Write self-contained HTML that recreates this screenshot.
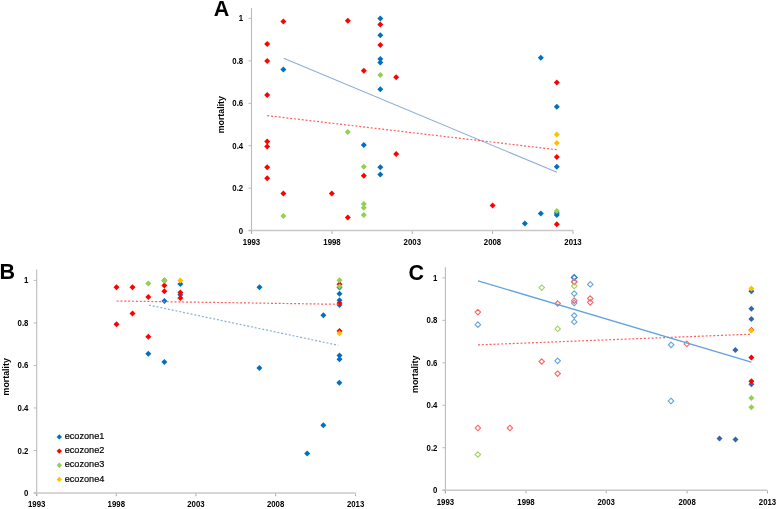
<!DOCTYPE html>
<html><head><meta charset="utf-8"><title>mortality</title>
<style>
html,body{margin:0;padding:0;background:#fff;}
body{width:778px;height:509px;overflow:hidden;}
svg{display:block;will-change:transform;font-family:"Liberation Sans", sans-serif;}
</style></head>
<body>
<svg width="778" height="509" viewBox="0 0 778 509">
<rect x="0" y="0" width="778" height="509" fill="#fff"/>
<line x1="251.5" y1="8" x2="251.5" y2="233.6" stroke="#BBBBBB" stroke-width="1.1"/>
<line x1="248.5" y1="230.6" x2="573.5" y2="230.6" stroke="#C8C8C8" stroke-width="1.5"/>
<line x1="248.5" y1="230.6" x2="251.5" y2="230.6" stroke="#BBBBBB" stroke-width="1.0"/>
<text x="0" y="0" font-size="8.4" font-weight="bold" text-anchor="end" transform="translate(243.2,233.6) scale(0.93,1)">0</text>
<line x1="248.5" y1="188.16" x2="251.5" y2="188.16" stroke="#BBBBBB" stroke-width="1.0"/>
<text x="0" y="0" font-size="8.4" font-weight="bold" text-anchor="end" transform="translate(243.2,191.2) scale(0.93,1)">0.2</text>
<line x1="248.5" y1="145.72" x2="251.5" y2="145.72" stroke="#BBBBBB" stroke-width="1.0"/>
<text x="0" y="0" font-size="8.4" font-weight="bold" text-anchor="end" transform="translate(243.2,148.7) scale(0.93,1)">0.4</text>
<line x1="248.5" y1="103.28" x2="251.5" y2="103.28" stroke="#BBBBBB" stroke-width="1.0"/>
<text x="0" y="0" font-size="8.4" font-weight="bold" text-anchor="end" transform="translate(243.2,106.3) scale(0.93,1)">0.6</text>
<line x1="248.5" y1="60.84" x2="251.5" y2="60.84" stroke="#BBBBBB" stroke-width="1.0"/>
<text x="0" y="0" font-size="8.4" font-weight="bold" text-anchor="end" transform="translate(243.2,63.8) scale(0.93,1)">0.8</text>
<line x1="248.5" y1="18.400000000000006" x2="251.5" y2="18.400000000000006" stroke="#BBBBBB" stroke-width="1.0"/>
<text x="0" y="0" font-size="8.4" font-weight="bold" text-anchor="end" transform="translate(243.2,21.4) scale(0.93,1)">1</text>
<line x1="251.5" y1="231.29999999999998" x2="251.5" y2="233.79999999999998" stroke="#A0A0A0" stroke-width="0.9"/>
<text x="0" y="0" font-size="8.4" font-weight="bold" text-anchor="middle" transform="translate(251.5,245.2) scale(0.93,1)">1993</text>
<line x1="332" y1="231.29999999999998" x2="332" y2="233.79999999999998" stroke="#A0A0A0" stroke-width="0.9"/>
<text x="0" y="0" font-size="8.4" font-weight="bold" text-anchor="middle" transform="translate(332,245.2) scale(0.93,1)">1998</text>
<line x1="412.3" y1="231.29999999999998" x2="412.3" y2="233.79999999999998" stroke="#A0A0A0" stroke-width="0.9"/>
<text x="0" y="0" font-size="8.4" font-weight="bold" text-anchor="middle" transform="translate(412.3,245.2) scale(0.93,1)">2003</text>
<line x1="492.5" y1="231.29999999999998" x2="492.5" y2="233.79999999999998" stroke="#A0A0A0" stroke-width="0.9"/>
<text x="0" y="0" font-size="8.4" font-weight="bold" text-anchor="middle" transform="translate(492.5,245.2) scale(0.93,1)">2008</text>
<line x1="573" y1="231.29999999999998" x2="573" y2="233.79999999999998" stroke="#A0A0A0" stroke-width="0.9"/>
<text x="0" y="0" font-size="8.4" font-weight="bold" text-anchor="middle" transform="translate(573,245.2) scale(0.93,1)">2013</text>
<text x="0" y="0" font-size="8.2" font-weight="bold" text-anchor="middle" transform="translate(224.2,114.7) rotate(-90) scale(1.08,1)">mortality</text>
<text x="213.8" y="16.2" font-size="21.5" text-anchor="start" font-weight="bold" >A</text>
<path d="M283.4 66.6L286.4 69.6L283.4 72.6L280.4 69.6Z" fill="#0070C0"/>
<path d="M363.8 142.1L366.8 145.1L363.8 148.1L360.8 145.1Z" fill="#0070C0"/>
<path d="M380.3 15.4L383.3 18.4L380.3 21.4L377.3 18.4Z" fill="#0070C0"/>
<path d="M380.3 32.2L383.3 35.2L380.3 38.2L377.3 35.2Z" fill="#0070C0"/>
<path d="M380.3 55.9L383.3 58.9L380.3 61.9L377.3 58.9Z" fill="#0070C0"/>
<path d="M380.3 59.6L383.3 62.6L380.3 65.6L377.3 62.6Z" fill="#0070C0"/>
<path d="M380.3 86.3L383.3 89.3L380.3 92.3L377.3 89.3Z" fill="#0070C0"/>
<path d="M380.3 164.2L383.3 167.2L380.3 170.2L377.3 167.2Z" fill="#0070C0"/>
<path d="M380.3 171.4L383.3 174.4L380.3 177.4L377.3 174.4Z" fill="#0070C0"/>
<path d="M524.9 220.6L527.9 223.6L524.9 226.6L521.9 223.6Z" fill="#0070C0"/>
<path d="M540.8 54.7L543.8 57.7L540.8 60.7L537.8 57.7Z" fill="#0070C0"/>
<path d="M540.8 210.5L543.8 213.5L540.8 216.5L537.8 213.5Z" fill="#0070C0"/>
<path d="M556.8 103.7L559.8 106.7L556.8 109.7L553.8 106.7Z" fill="#0070C0"/>
<path d="M556.8 163.7L559.8 166.7L556.8 169.7L553.8 166.7Z" fill="#0070C0"/>
<path d="M556.8 210.0L559.8 213.0L556.8 216.0L553.8 213.0Z" fill="#0070C0"/>
<path d="M556.8 212.0L559.8 215.0L556.8 218.0L553.8 215.0Z" fill="#0070C0"/>
<path d="M267.2 41.0L270.2 44.0L267.2 47.0L264.2 44.0Z" fill="#FF0000"/>
<path d="M267.2 58.0L270.2 61.0L267.2 64.0L264.2 61.0Z" fill="#FF0000"/>
<path d="M267.2 92.0L270.2 95.0L267.2 98.0L264.2 95.0Z" fill="#FF0000"/>
<path d="M267.2 138.4L270.2 141.4L267.2 144.4L264.2 141.4Z" fill="#FF0000"/>
<path d="M267.2 143.4L270.2 146.4L267.2 149.4L264.2 146.4Z" fill="#FF0000"/>
<path d="M267.2 164.2L270.2 167.2L267.2 170.2L264.2 167.2Z" fill="#FF0000"/>
<path d="M267.2 175.3L270.2 178.3L267.2 181.3L264.2 178.3Z" fill="#FF0000"/>
<path d="M283.4 18.5L286.4 21.5L283.4 24.5L280.4 21.5Z" fill="#FF0000"/>
<path d="M283.4 190.5L286.4 193.5L283.4 196.5L280.4 193.5Z" fill="#FF0000"/>
<path d="M331.8 190.5L334.8 193.5L331.8 196.5L328.8 193.5Z" fill="#FF0000"/>
<path d="M347.8 17.8L350.8 20.8L347.8 23.8L344.8 20.8Z" fill="#FF0000"/>
<path d="M347.8 214.5L350.8 217.5L347.8 220.5L344.8 217.5Z" fill="#FF0000"/>
<path d="M363.8 67.8L366.8 70.8L363.8 73.8L360.8 70.8Z" fill="#FF0000"/>
<path d="M363.8 172.8L366.8 175.8L363.8 178.8L360.8 175.8Z" fill="#FF0000"/>
<path d="M380.3 21.6L383.3 24.6L380.3 27.6L377.3 24.6Z" fill="#FF0000"/>
<path d="M380.3 42.0L383.3 45.0L380.3 48.0L377.3 45.0Z" fill="#FF0000"/>
<path d="M396.2 74.2L399.2 77.2L396.2 80.2L393.2 77.2Z" fill="#FF0000"/>
<path d="M396.2 151.0L399.2 154.0L396.2 157.0L393.2 154.0Z" fill="#FF0000"/>
<path d="M492.6 202.5L495.6 205.5L492.6 208.5L489.6 205.5Z" fill="#FF0000"/>
<path d="M556.8 79.5L559.8 82.5L556.8 85.5L553.8 82.5Z" fill="#FF0000"/>
<path d="M556.8 154.1L559.8 157.1L556.8 160.1L553.8 157.1Z" fill="#FF0000"/>
<path d="M556.8 221.2L559.8 224.2L556.8 227.2L553.8 224.2Z" fill="#FF0000"/>
<path d="M283.4 212.9L286.4 215.9L283.4 218.9L280.4 215.9Z" fill="#92D050"/>
<path d="M347.8 128.9L350.8 131.9L347.8 134.9L344.8 131.9Z" fill="#92D050"/>
<path d="M363.8 163.8L366.8 166.8L363.8 169.8L360.8 166.8Z" fill="#92D050"/>
<path d="M363.8 201.1L366.8 204.1L363.8 207.1L360.8 204.1Z" fill="#92D050"/>
<path d="M363.8 204.8L366.8 207.8L363.8 210.8L360.8 207.8Z" fill="#92D050"/>
<path d="M363.8 211.9L366.8 214.9L363.8 217.9L360.8 214.9Z" fill="#92D050"/>
<path d="M380.3 72.0L383.3 75.0L380.3 78.0L377.3 75.0Z" fill="#92D050"/>
<path d="M556.8 208.0L559.8 211.0L556.8 214.0L553.8 211.0Z" fill="#92D050"/>
<path d="M556.8 131.6L559.8 134.6L556.8 137.6L553.8 134.6Z" fill="#FFC000"/>
<path d="M556.8 140.1L559.8 143.1L556.8 146.1L553.8 143.1Z" fill="#FFC000"/>
<line x1="283.7" y1="58.3" x2="556.9" y2="172.3" stroke="#8CADDA" stroke-width="1.1"/>
<line x1="267.2" y1="115.6" x2="556.9" y2="149.7" stroke="#FF5C5C" stroke-width="1.2" stroke-dasharray="2 1.86"/>
<line x1="36.7" y1="269.6" x2="36.7" y2="496.0" stroke="#BBBBBB" stroke-width="1.1"/>
<line x1="33.7" y1="493.0" x2="355.8" y2="493.0" stroke="#C8C8C8" stroke-width="1.5"/>
<line x1="33.7" y1="493.0" x2="36.7" y2="493.0" stroke="#BBBBBB" stroke-width="1.0"/>
<text x="0" y="0" font-size="8.4" font-weight="bold" text-anchor="end" transform="translate(28.4,496.0) scale(0.93,1)">0</text>
<line x1="33.7" y1="450.48" x2="36.7" y2="450.48" stroke="#BBBBBB" stroke-width="1.0"/>
<text x="0" y="0" font-size="8.4" font-weight="bold" text-anchor="end" transform="translate(28.4,453.5) scale(0.93,1)">0.2</text>
<line x1="33.7" y1="407.96" x2="36.7" y2="407.96" stroke="#BBBBBB" stroke-width="1.0"/>
<text x="0" y="0" font-size="8.4" font-weight="bold" text-anchor="end" transform="translate(28.4,411.0) scale(0.93,1)">0.4</text>
<line x1="33.7" y1="365.44" x2="36.7" y2="365.44" stroke="#BBBBBB" stroke-width="1.0"/>
<text x="0" y="0" font-size="8.4" font-weight="bold" text-anchor="end" transform="translate(28.4,368.4) scale(0.93,1)">0.6</text>
<line x1="33.7" y1="322.91999999999996" x2="36.7" y2="322.91999999999996" stroke="#BBBBBB" stroke-width="1.0"/>
<text x="0" y="0" font-size="8.4" font-weight="bold" text-anchor="end" transform="translate(28.4,325.9) scale(0.93,1)">0.8</text>
<line x1="33.7" y1="280.4" x2="36.7" y2="280.4" stroke="#BBBBBB" stroke-width="1.0"/>
<text x="0" y="0" font-size="8.4" font-weight="bold" text-anchor="end" transform="translate(28.4,283.4) scale(0.93,1)">1</text>
<line x1="36.7" y1="493.7" x2="36.7" y2="496.2" stroke="#A0A0A0" stroke-width="0.9"/>
<text x="0" y="0" font-size="8.4" font-weight="bold" text-anchor="middle" transform="translate(36.7,507.3) scale(0.93,1)">1993</text>
<line x1="116.3" y1="493.7" x2="116.3" y2="496.2" stroke="#A0A0A0" stroke-width="0.9"/>
<text x="0" y="0" font-size="8.4" font-weight="bold" text-anchor="middle" transform="translate(116.3,507.3) scale(0.93,1)">1998</text>
<line x1="195.9" y1="493.7" x2="195.9" y2="496.2" stroke="#A0A0A0" stroke-width="0.9"/>
<text x="0" y="0" font-size="8.4" font-weight="bold" text-anchor="middle" transform="translate(195.9,507.3) scale(0.93,1)">2003</text>
<line x1="275.6" y1="493.7" x2="275.6" y2="496.2" stroke="#A0A0A0" stroke-width="0.9"/>
<text x="0" y="0" font-size="8.4" font-weight="bold" text-anchor="middle" transform="translate(275.6,507.3) scale(0.93,1)">2008</text>
<line x1="355.6" y1="493.7" x2="355.6" y2="496.2" stroke="#A0A0A0" stroke-width="0.9"/>
<text x="0" y="0" font-size="8.4" font-weight="bold" text-anchor="middle" transform="translate(355.6,507.3) scale(0.93,1)">2013</text>
<text x="0" y="0" font-size="8.2" font-weight="bold" text-anchor="middle" transform="translate(9.3,376.8) rotate(-90) scale(1.08,1)">mortality</text>
<text x="-0.4" y="279.3" font-size="21.5" text-anchor="start" font-weight="bold" >B</text>
<path d="M148.3 350.8L151.3 353.8L148.3 356.8L145.3 353.8Z" fill="#0070C0"/>
<path d="M164.4 298.0L167.4 301.0L164.4 304.0L161.4 301.0Z" fill="#0070C0"/>
<path d="M164.4 358.9L167.4 361.9L164.4 364.9L161.4 361.9Z" fill="#0070C0"/>
<path d="M164.4 277.6L167.4 280.6L164.4 283.6L161.4 280.6Z" fill="#0070C0"/>
<path d="M180.4 281.1L183.4 284.1L180.4 287.1L177.4 284.1Z" fill="#0070C0"/>
<path d="M180.4 291.7L183.4 294.7L180.4 297.7L177.4 294.7Z" fill="#0070C0"/>
<path d="M259.5 284.2L262.5 287.2L259.5 290.2L256.5 287.2Z" fill="#0070C0"/>
<path d="M259.4 365.0L262.4 368.0L259.4 371.0L256.4 368.0Z" fill="#0070C0"/>
<path d="M307.2 450.4L310.2 453.4L307.2 456.4L304.2 453.4Z" fill="#0070C0"/>
<path d="M323.4 312.3L326.4 315.3L323.4 318.3L320.4 315.3Z" fill="#0070C0"/>
<path d="M323.3 422.3L326.3 425.3L323.3 428.3L320.3 425.3Z" fill="#0070C0"/>
<path d="M339.5 284.4L342.5 287.4L339.5 290.4L336.5 287.4Z" fill="#0070C0"/>
<path d="M339.5 290.8L342.5 293.8L339.5 296.8L336.5 293.8Z" fill="#0070C0"/>
<path d="M339.5 297.3L342.5 300.3L339.5 303.3L336.5 300.3Z" fill="#0070C0"/>
<path d="M339.5 302.0L342.5 305.0L339.5 308.0L336.5 305.0Z" fill="#0070C0"/>
<path d="M339.5 352.4L342.5 355.4L339.5 358.4L336.5 355.4Z" fill="#0070C0"/>
<path d="M339.5 356.3L342.5 359.3L339.5 362.3L336.5 359.3Z" fill="#0070C0"/>
<path d="M339.3 379.8L342.3 382.8L339.3 385.8L336.3 382.8Z" fill="#0070C0"/>
<path d="M116.5 284.2L119.5 287.2L116.5 290.2L113.5 287.2Z" fill="#FF0000"/>
<path d="M116.5 321.3L119.5 324.3L116.5 327.3L113.5 324.3Z" fill="#FF0000"/>
<path d="M132.5 284.2L135.5 287.2L132.5 290.2L129.5 287.2Z" fill="#FF0000"/>
<path d="M132.5 310.5L135.5 313.5L132.5 316.5L129.5 313.5Z" fill="#FF0000"/>
<path d="M148.3 294.1L151.3 297.1L148.3 300.1L145.3 297.1Z" fill="#FF0000"/>
<path d="M148.3 333.7L151.3 336.7L148.3 339.7L145.3 336.7Z" fill="#FF0000"/>
<path d="M164.4 282.6L167.4 285.6L164.4 288.6L161.4 285.6Z" fill="#FF0000"/>
<path d="M164.4 288.2L167.4 291.2L164.4 294.2L161.4 291.2Z" fill="#FF0000"/>
<path d="M180.4 289.6L183.4 292.6L180.4 295.6L177.4 292.6Z" fill="#FF0000"/>
<path d="M180.4 294.9L183.4 297.9L180.4 300.9L177.4 297.9Z" fill="#FF0000"/>
<path d="M339.5 281.2L342.5 284.2L339.5 287.2L336.5 284.2Z" fill="#FF0000"/>
<path d="M339.5 300.0L342.5 303.0L339.5 306.0L336.5 303.0Z" fill="#FF0000"/>
<path d="M339.5 328.0L342.5 331.0L339.5 334.0L336.5 331.0Z" fill="#FF0000"/>
<path d="M148.3 280.5L151.3 283.5L148.3 286.5L145.3 283.5Z" fill="#92D050"/>
<path d="M164.4 277.4L167.4 280.4L164.4 283.4L161.4 280.4Z" fill="#92D050"/>
<path d="M339.5 277.2L342.5 280.2L339.5 283.2L336.5 280.2Z" fill="#92D050"/>
<path d="M339.5 283.5L342.5 286.5L339.5 289.5L336.5 286.5Z" fill="#92D050"/>
<path d="M180.4 277.4L183.4 280.4L180.4 283.4L177.4 280.4Z" fill="#FFC000"/>
<path d="M339.5 330.3L342.5 333.3L339.5 336.3L336.5 333.3Z" fill="#FFC000"/>
<line x1="116.6" y1="301.0" x2="339.5" y2="304.3" stroke="#FF5C5C" stroke-width="1.2" stroke-dasharray="2 1.86"/>
<line x1="149.0" y1="305.1" x2="338.3" y2="345.3" stroke="#8AAEDC" stroke-width="1.2" stroke-dasharray="2 1.86"/>
<path d="M59.3 434.2L62.0 436.9L59.3 439.6L56.6 436.9Z" fill="#0070C0"/>
<text x="0" y="0" font-size="9.9" stroke="#000" stroke-width="0.2" transform="translate(64.7,439.1) scale(0.925,1)">ecozone1</text>
<path d="M59.3 448.4L62.0 451.1L59.3 453.8L56.6 451.1Z" fill="#FF0000"/>
<text x="0" y="0" font-size="9.9" stroke="#000" stroke-width="0.2" transform="translate(64.7,453.3) scale(0.925,1)">ecozone2</text>
<path d="M59.3 462.5L62.0 465.2L59.3 467.9L56.6 465.2Z" fill="#92D050"/>
<text x="0" y="0" font-size="9.9" stroke="#000" stroke-width="0.2" transform="translate(64.7,467.4) scale(0.925,1)">ecozone3</text>
<path d="M59.3 476.7L62.0 479.4L59.3 482.1L56.6 479.4Z" fill="#FFC000"/>
<text x="0" y="0" font-size="9.9" stroke="#000" stroke-width="0.2" transform="translate(64.7,481.6) scale(0.925,1)">ecozone4</text>
<line x1="445.4" y1="267.2" x2="445.4" y2="493.2" stroke="#BBBBBB" stroke-width="1.1"/>
<line x1="442.4" y1="490.2" x2="767.5" y2="490.2" stroke="#C8C8C8" stroke-width="1.5"/>
<line x1="442.4" y1="490.2" x2="445.4" y2="490.2" stroke="#BBBBBB" stroke-width="1.0"/>
<text x="0" y="0" font-size="8.4" font-weight="bold" text-anchor="end" transform="translate(437.4,493.2) scale(0.93,1)">0</text>
<line x1="442.4" y1="447.74" x2="445.4" y2="447.74" stroke="#BBBBBB" stroke-width="1.0"/>
<text x="0" y="0" font-size="8.4" font-weight="bold" text-anchor="end" transform="translate(437.4,450.7) scale(0.93,1)">0.2</text>
<line x1="442.4" y1="405.28" x2="445.4" y2="405.28" stroke="#BBBBBB" stroke-width="1.0"/>
<text x="0" y="0" font-size="8.4" font-weight="bold" text-anchor="end" transform="translate(437.4,408.3) scale(0.93,1)">0.4</text>
<line x1="442.4" y1="362.82" x2="445.4" y2="362.82" stroke="#BBBBBB" stroke-width="1.0"/>
<text x="0" y="0" font-size="8.4" font-weight="bold" text-anchor="end" transform="translate(437.4,365.8) scale(0.93,1)">0.6</text>
<line x1="442.4" y1="320.36" x2="445.4" y2="320.36" stroke="#BBBBBB" stroke-width="1.0"/>
<text x="0" y="0" font-size="8.4" font-weight="bold" text-anchor="end" transform="translate(437.4,323.4) scale(0.93,1)">0.8</text>
<line x1="442.4" y1="277.9" x2="445.4" y2="277.9" stroke="#BBBBBB" stroke-width="1.0"/>
<text x="0" y="0" font-size="8.4" font-weight="bold" text-anchor="end" transform="translate(437.4,280.9) scale(0.93,1)">1</text>
<line x1="445.4" y1="490.9" x2="445.4" y2="493.4" stroke="#A0A0A0" stroke-width="0.9"/>
<text x="0" y="0" font-size="8.4" font-weight="bold" text-anchor="middle" transform="translate(445.4,504.8) scale(0.93,1)">1993</text>
<line x1="526" y1="490.9" x2="526" y2="493.4" stroke="#A0A0A0" stroke-width="0.9"/>
<text x="0" y="0" font-size="8.4" font-weight="bold" text-anchor="middle" transform="translate(526,504.8) scale(0.93,1)">1998</text>
<line x1="606.2" y1="490.9" x2="606.2" y2="493.4" stroke="#A0A0A0" stroke-width="0.9"/>
<text x="0" y="0" font-size="8.4" font-weight="bold" text-anchor="middle" transform="translate(606.2,504.8) scale(0.93,1)">2003</text>
<line x1="687.1" y1="490.9" x2="687.1" y2="493.4" stroke="#A0A0A0" stroke-width="0.9"/>
<text x="0" y="0" font-size="8.4" font-weight="bold" text-anchor="middle" transform="translate(687.1,504.8) scale(0.93,1)">2008</text>
<line x1="767.5" y1="490.9" x2="767.5" y2="493.4" stroke="#A0A0A0" stroke-width="0.9"/>
<text x="0" y="0" font-size="8.4" font-weight="bold" text-anchor="middle" transform="translate(767.5,504.8) scale(0.93,1)">2013</text>
<text x="0" y="0" font-size="8.2" font-weight="bold" text-anchor="middle" transform="translate(418.2,374.3) rotate(-90) scale(1.08,1)">mortality</text>
<text x="408.5" y="280.0" font-size="21.5" text-anchor="start" font-weight="bold" >C</text>
<path d="M574.2 274.8L577.0 277.5L574.2 280.2L571.5 277.5Z" fill="none" stroke="#2F78C8" stroke-width="1.4"/>
<path d="M477.9 321.9L480.6 324.7L477.9 327.4L475.1 324.7Z" fill="none" stroke="#64A4DE" stroke-width="1.1"/>
<path d="M557.6 358.1L560.4 360.8L557.6 363.6L554.9 360.8Z" fill="none" stroke="#64A4DE" stroke-width="1.1"/>
<path d="M574.2 279.1L577.0 281.8L574.2 284.6L571.5 281.8Z" fill="none" stroke="#64A4DE" stroke-width="1.1"/>
<path d="M574.2 290.9L577.0 293.6L574.2 296.4L571.5 293.6Z" fill="none" stroke="#64A4DE" stroke-width="1.1"/>
<path d="M574.2 300.2L577.0 303.0L574.2 305.8L571.5 303.0Z" fill="none" stroke="#64A4DE" stroke-width="1.1"/>
<path d="M574.2 312.8L577.0 315.5L574.2 318.2L571.5 315.5Z" fill="none" stroke="#64A4DE" stroke-width="1.1"/>
<path d="M574.2 319.1L577.0 321.9L574.2 324.6L571.5 321.9Z" fill="none" stroke="#64A4DE" stroke-width="1.1"/>
<path d="M590.2 281.6L593.0 284.4L590.2 287.1L587.5 284.4Z" fill="none" stroke="#64A4DE" stroke-width="1.1"/>
<path d="M671.1 342.1L673.9 344.8L671.1 347.6L668.4 344.8Z" fill="none" stroke="#64A4DE" stroke-width="1.1"/>
<path d="M671.0 398.2L673.8 401.0L671.0 403.8L668.2 401.0Z" fill="none" stroke="#64A4DE" stroke-width="1.1"/>
<path d="M477.9 309.4L480.6 312.1L477.9 314.9L475.1 312.1Z" fill="none" stroke="#FF6464" stroke-width="1.1"/>
<path d="M477.9 425.2L480.6 428.0L477.9 430.8L475.1 428.0Z" fill="none" stroke="#FF6464" stroke-width="1.1"/>
<path d="M509.9 425.2L512.6 428.0L509.9 430.8L507.1 428.0Z" fill="none" stroke="#FF6464" stroke-width="1.1"/>
<path d="M541.7 358.8L544.5 361.5L541.7 364.2L539.0 361.5Z" fill="none" stroke="#FF6464" stroke-width="1.1"/>
<path d="M557.6 300.8L560.4 303.5L557.6 306.2L554.9 303.5Z" fill="none" stroke="#FF6464" stroke-width="1.1"/>
<path d="M557.6 370.9L560.4 373.6L557.6 376.4L554.9 373.6Z" fill="none" stroke="#FF6464" stroke-width="1.1"/>
<path d="M574.2 279.1L577.0 281.8L574.2 284.6L571.5 281.8Z" fill="none" stroke="#FF6464" stroke-width="1.1"/>
<path d="M574.2 297.9L577.0 300.7L574.2 303.4L571.5 300.7Z" fill="none" stroke="#FF6464" stroke-width="1.1"/>
<path d="M590.2 295.8L593.0 298.5L590.2 301.2L587.5 298.5Z" fill="none" stroke="#FF6464" stroke-width="1.1"/>
<path d="M590.2 299.6L593.0 302.3L590.2 305.1L587.5 302.3Z" fill="none" stroke="#FF6464" stroke-width="1.1"/>
<path d="M686.9 341.1L689.6 343.9L686.9 346.6L684.1 343.9Z" fill="none" stroke="#FF6464" stroke-width="1.1"/>
<path d="M477.9 451.8L480.6 454.5L477.9 457.2L475.1 454.5Z" fill="none" stroke="#9CD45E" stroke-width="1.1"/>
<path d="M541.7 284.9L544.5 287.6L541.7 290.4L539.0 287.6Z" fill="none" stroke="#9CD45E" stroke-width="1.1"/>
<path d="M557.6 326.1L560.4 328.9L557.6 331.6L554.9 328.9Z" fill="none" stroke="#9CD45E" stroke-width="1.1"/>
<path d="M574.2 283.2L577.0 286.0L574.2 288.8L571.5 286.0Z" fill="none" stroke="#9CD45E" stroke-width="1.1"/>
<line x1="478.0" y1="280.8" x2="751.4" y2="362.1" stroke="#62A2DC" stroke-width="1.3"/>
<line x1="478.0" y1="344.9" x2="751.4" y2="334.2" stroke="#FF5C5C" stroke-width="1.2" stroke-dasharray="2 1.86"/>
<path d="M719.5 435.5L722.5 438.5L719.5 441.5L716.5 438.5Z" fill="#3566AA"/>
<path d="M735.4 346.9L738.4 349.9L735.4 352.9L732.4 349.9Z" fill="#3566AA"/>
<path d="M735.5 436.5L738.5 439.5L735.5 442.5L732.5 439.5Z" fill="#3566AA"/>
<path d="M751.4 288.2L754.4 291.2L751.4 294.2L748.4 291.2Z" fill="#3566AA"/>
<path d="M751.4 305.7L754.4 308.7L751.4 311.7L748.4 308.7Z" fill="#3566AA"/>
<path d="M751.4 316.0L754.4 319.0L751.4 322.0L748.4 319.0Z" fill="#3566AA"/>
<path d="M751.4 381.3L754.4 384.3L751.4 387.3L748.4 384.3Z" fill="#3566AA"/>
<path d="M751.4 354.6L754.4 357.6L751.4 360.6L748.4 357.6Z" fill="#FF0000"/>
<path d="M751.4 378.2L754.4 381.2L751.4 384.2L748.4 381.2Z" fill="#FF0000"/>
<path d="M751.4 327.0L754.4 330.0L751.4 333.0L748.4 330.0Z" fill="#FF0000"/>
<path d="M751.4 394.9L754.4 397.9L751.4 400.9L748.4 397.9Z" fill="#92D050"/>
<path d="M751.4 404.3L754.4 407.3L751.4 410.3L748.4 407.3Z" fill="#92D050"/>
<path d="M751.4 285.6L754.4 288.6L751.4 291.6L748.4 288.6Z" fill="#FFC000"/>
<path d="M751.4 327.4L754.4 330.4L751.4 333.4L748.4 330.4Z" fill="#FFC000"/>
</svg>
</body></html>
